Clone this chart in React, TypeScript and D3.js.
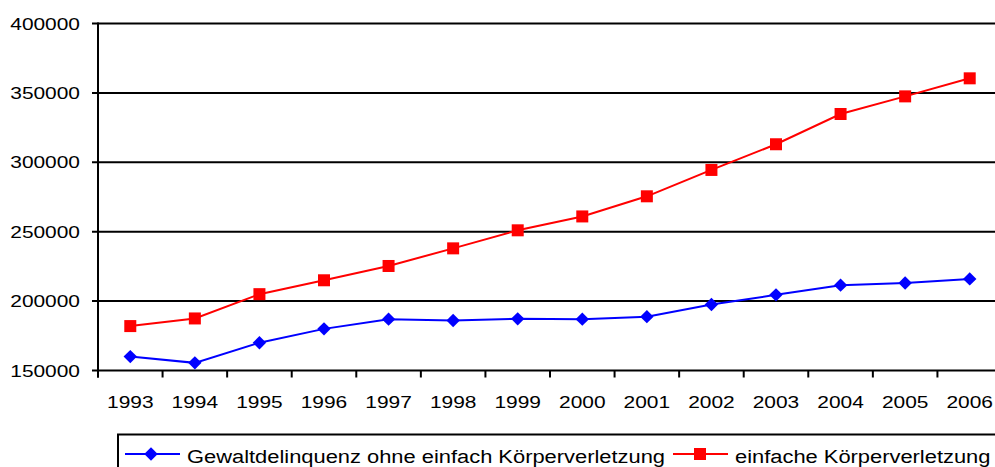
import { useRef, useEffect } from 'react';
import * as d3 from 'd3';

const years = ['1993', '1994', '1995', '1996', '1997', '1998', '1999', '2000', '2001', '2002', '2003', '2004', '2005', '2006'];
const gewalt = [160000, 155500, 170000, 180000, 187000, 186000, 187200, 187000, 188800, 197500, 204500, 211500, 213000, 216000];
const einfach = [182000, 187500, 205000, 215000, 225300, 238000, 251000, 261000, 275500, 294500, 313000, 334800, 347500, 360500];
const yTicks = [150000, 200000, 250000, 300000, 350000, 400000];
const seriesNames = ['Gewaltdelinquenz ohne einfach Körperverletzung', 'einfache Körperverletzung'];

const FONT = 'Arial, "Liberation Sans", sans-serif';
const STRETCH = 1.23;

function App() {
    const ref = useRef(null);

    useEffect(() => {
        const svg = d3.select(ref.current);
        svg.selectAll('*').remove();

        const left = 98, right = 1002, top = 23.5, bottom = 370.5;

        const x = d3.scaleBand().domain(years).range([left, right]);
        const y = d3.scaleLinear().domain([150000, 400000]).range([bottom, top]);

        // horizontal grid lines
        svg.append('g')
            .selectAll('line')
            .data(yTicks)
            .enter()
            .append('line')
            .attr('x1', left - 6)
            .attr('x2', 995)
            .attr('y1', d => y(d))
            .attr('y2', d => y(d))
            .attr('stroke', '#000')
            .attr('stroke-width', 2);

        // y axis line
        svg.append('line')
            .attr('x1', left).attr('x2', left)
            .attr('y1', top - 1).attr('y2', bottom + 7)
            .attr('stroke', '#000')
            .attr('stroke-width', 2);

        // y labels
        svg.append('g')
            .selectAll('text')
            .data(yTicks)
            .enter()
            .append('text')
            .attr('transform', d => `translate(80, ${y(d) + 6}) scale(${STRETCH}, 1)`)
            .attr('text-anchor', 'end')
            .style('font-family', FONT)
            .style('font-size', '17px')
            .text(d => d);

        // x ticks at band edges
        const edges = years.map(d => x(d)).concat([right]);
        svg.append('g')
            .selectAll('line')
            .data(edges)
            .enter()
            .append('line')
            .attr('x1', d => d).attr('x2', d => d)
            .attr('y1', bottom).attr('y2', bottom + 7)
            .attr('stroke', '#000')
            .attr('stroke-width', 2);

        svg.append('g')
            .selectAll('text')
            .data(years)
            .enter()
            .append('text')
            .attr('transform', d => `translate(${x(d) + x.bandwidth() / 2}, 408) scale(${STRETCH}, 1)`)
            .attr('text-anchor', 'middle')
            .style('font-family', FONT)
            .style('font-size', '17px')
            .text(d => d);

        const cx = (i) => x(years[i]) + x.bandwidth() / 2;
        const line = d3.line().x((d, i) => cx(i)).y(d => y(d));

        const diamond = d3.symbol().type(d3.symbolDiamond2).size(115);

        // blue series
        svg.append('path')
            .datum(gewalt)
            .attr('d', line)
            .attr('fill', 'none')
            .attr('stroke', '#0000ff')
            .attr('stroke-width', 2);
        svg.append('g')
            .selectAll('path')
            .data(gewalt)
            .enter()
            .append('path')
            .attr('d', diamond)
            .attr('transform', (d, i) => `translate(${cx(i)}, ${y(d)})`)
            .attr('fill', '#0000ff');

        // red series
        svg.append('path')
            .datum(einfach)
            .attr('d', line)
            .attr('fill', 'none')
            .attr('stroke', '#ff0000')
            .attr('stroke-width', 2);
        svg.append('g')
            .selectAll('rect')
            .data(einfach)
            .enter()
            .append('rect')
            .attr('x', (d, i) => cx(i) - 6)
            .attr('y', d => y(d) - 6)
            .attr('width', 12)
            .attr('height', 12)
            .attr('fill', '#ff0000');

        // legend
        const legend = svg.append('g');
        legend.append('rect')
            .attr('x', 118)
            .attr('y', 434.5)
            .attr('width', 900)
            .attr('height', 60)
            .attr('fill', 'none')
            .attr('stroke', '#000')
            .attr('stroke-width', 2);

        const entries = [
            { lx: 125, tx: 187, color: '#0000ff', marker: 'diamond' },
            { lx: 673, tx: 735, color: '#ff0000', marker: 'square' }
        ];
        entries.forEach((e, i) => {
            legend.append('line')
                .attr('x1', e.lx).attr('x2', e.lx + 55)
                .attr('y1', 454).attr('y2', 454)
                .attr('stroke', e.color)
                .attr('stroke-width', 2);
            if (e.marker === 'diamond') {
                legend.append('path')
                    .attr('d', diamond)
                    .attr('transform', `translate(${e.lx + 26}, 454)`)
                    .attr('fill', e.color);
            } else {
                legend.append('rect')
                    .attr('x', e.lx + 21).attr('y', 448)
                    .attr('width', 12).attr('height', 12)
                    .attr('fill', e.color);
            }
            legend.append('text')
                .attr('transform', `translate(${e.tx}, 462.5) scale(${STRETCH}, 1)`)
                .style('font-family', FONT)
                .style('font-size', '17.8px')
                .text(seriesNames[i]);
        });
    }, []);

    return (
        <svg
            ref={ref}
            width={995}
            height={467}
            style={{ position: 'absolute', left: 0, top: 0, background: '#fff' }}
        />
    );
}

export default App;
